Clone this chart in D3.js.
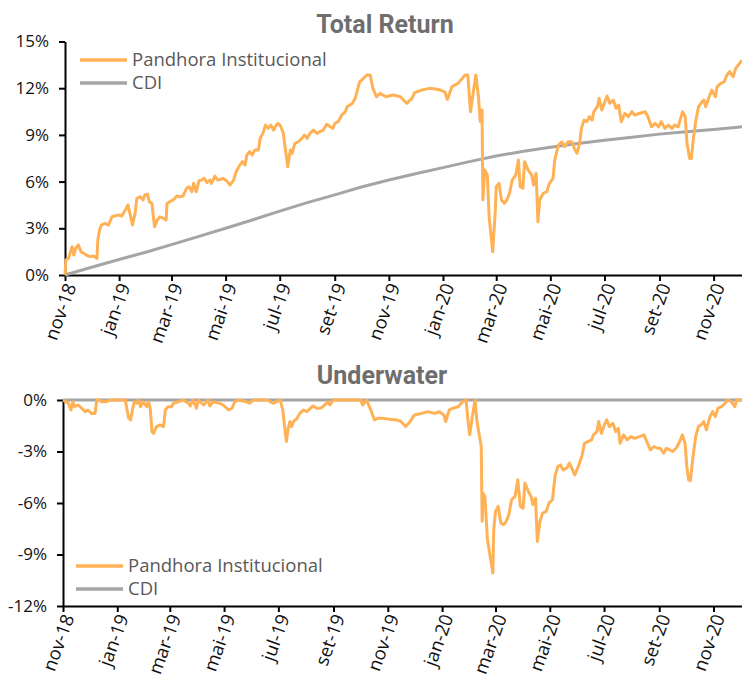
<!DOCTYPE html>
<html lang="pt">
<head>
<meta charset="utf-8" />
<title>Total Return / Underwater</title>
<style>
  * { margin: 0; padding: 0; }
  body { background: #fff; width: 742px; height: 677px; overflow: hidden; }
  svg { display: block; }
  .tick text { font-family: "Open Sans", sans-serif; font-size: 17px; fill: #111; }
  .x-axis .tick text { font-size: 18.5px; }
  .domain, .tick line { stroke: #000; stroke-width: 2px; }
  .title { font-family: Roboto, sans-serif; font-weight: bold; font-size: 25px; fill: #6e6e6e; }
  .legend { font-family: "Open Sans", sans-serif; font-size: 18.5px; fill: #595959; }
</style>
</head>
<body>
<script src="https://d3js.org/d3.v7.min.js"></script>
<div id="chart"></div>
<script>

// dias corridos desde 01/11/2018
var startDate = new Date(2018, 10, 1);
var endDay = 763;

// Total Return - Pandhora Institucional (%)
var retDays = [0, 1, 4, 8, 10, 12, 15, 18, 21, 24, 28, 32, 36, 37, 39, 41, 45, 49, 53, 56, 60, 64, 68, 71, 74, 76, 79, 81, 85, 88, 90, 93, 95, 98, 100, 101, 104, 107, 111, 114, 115, 118, 122, 126, 130, 133, 137, 140, 143, 145, 148, 151, 154, 157, 160, 163, 165, 169, 172, 175, 178, 182, 186, 190, 193, 197, 200, 203, 205, 208, 211, 214, 218, 220, 223, 226, 229, 232, 235, 238, 240, 243, 246, 249, 251, 254, 256, 259, 263, 267, 270, 273, 276, 280, 284, 287, 291, 295, 299, 302, 304, 308, 312, 316, 318, 321, 324, 327, 329, 332, 336, 340, 344, 347, 351, 355, 362, 370, 378, 385, 391, 394, 402, 411, 419, 423, 428, 431, 436, 443, 451, 454, 457, 460, 463, 466, 468, 470, 471, 473, 476, 478, 482, 485, 486, 489, 492, 495, 498, 501, 504, 508, 511, 513, 516, 518, 522, 526, 528, 531, 533, 535, 539, 543, 546, 550, 552, 556, 560, 563, 567, 571, 574, 577, 580, 582, 585, 588, 591, 594, 596, 600, 602, 605, 607, 611, 614, 618, 621, 624, 627, 631, 635, 639, 642, 648, 654, 657, 661, 665, 669, 672, 676, 680, 684, 687, 691, 696, 699, 701, 704, 706, 708, 711, 714, 718, 720, 722, 726, 729, 733, 735, 739, 743, 746, 749, 753, 756, 759, 763];
var retPandhora = [0, 0.96, 1.07, 1.82, 1.28, 1.71, 1.93, 1.5, 1.39, 1.28, 1.18, 1.22, 1.07, 2.25, 2.89, 3.21, 3.32, 3.21, 3.74, 3.79, 3.85, 3.79, 4.17, 4.5, 3.74, 3.21, 3.96, 4.93, 5.03, 4.82, 5.14, 5.2, 4.71, 4.6, 3.53, 3.1, 3.53, 3.74, 3.64, 3.53, 4.6, 4.71, 4.82, 5.07, 5.03, 5.07, 5.57, 5.67, 5.35, 5.89, 5.35, 6.06, 6.1, 6.21, 5.93, 6.1, 5.89, 6.36, 6.1, 6.13, 6.21, 6.06, 5.78, 6.1, 6.64, 7.06, 7.28, 7.06, 7.71, 7.92, 7.71, 8.03, 8.03, 8.78, 9.1, 9.63, 9.42, 9.63, 9.31, 9.63, 9.74, 9.57, 9.1, 7.82, 6.96, 8.03, 7.82, 8.46, 8.56, 8.78, 8.99, 8.78, 9.1, 9.31, 9.1, 9.2, 9.31, 9.68, 9.52, 9.42, 9.74, 9.85, 10.28, 10.49, 10.81, 10.92, 11.03, 11.35, 11.77, 12.4, 12.6, 12.85, 12.85, 11.99, 11.45, 11.67, 11.45, 11.56, 11.45, 11.03, 11.35, 11.71, 11.88, 11.99, 11.93, 11.88, 11.77, 11.28, 12.09, 12.31, 12.85, 12.85, 10.49, 11.67, 12.85, 11.45, 9.85, 10.6, 4.82, 6.74, 6.42, 3.74, 1.5, 4.17, 5.67, 5.89, 4.82, 4.6, 4.82, 5.25, 6.1, 6.42, 7.39, 5.67, 5.57, 7.28, 6.74, 6.42, 5.78, 6.53, 3.42, 4.82, 5.25, 5.35, 5.89, 6.21, 7.39, 8.35, 8.56, 8.24, 8.56, 8.56, 8.14, 7.82, 8.46, 9.42, 9.95, 9.85, 10.17, 9.95, 10.49, 10.81, 11.35, 10.6, 10.92, 11.5, 11.03, 11.24, 10.71, 10.92, 9.85, 10.39, 10.17, 10.49, 10.28, 10.39, 10.49, 10.17, 9.52, 9.74, 9.52, 9.85, 9.42, 9.63, 9.42, 9.63, 9.52, 10.49, 10.17, 8.46, 7.49, 7.49, 8.67, 9.95, 10.81, 11.13, 11.24, 10.81, 11.45, 11.88, 11.45, 12.09, 12.31, 12.42, 12.85, 13.06, 12.74, 13.28, 13.49, 13.81];

// Total Return - CDI (%)
var cdiDays = [0, 30, 61, 92, 120, 151, 181, 212, 242, 273, 304, 334, 365, 395, 426, 457, 486, 517, 547, 578, 608, 639, 670, 700, 731, 761, 763];
var cdiReturn = [0, 0.5, 1.0, 1.48, 1.95, 2.48, 3.0, 3.55, 4.1, 4.65, 5.15, 5.65, 6.1, 6.5, 6.9, 7.3, 7.65, 7.95, 8.2, 8.45, 8.65, 8.85, 9.05, 9.2, 9.35, 9.5, 9.55];

// Underwater - Pandhora Institucional (%)
var uwDays = [0, 6, 9, 11, 13, 17, 21, 25, 28, 32, 36, 38, 42, 43, 49, 53, 64, 70, 72, 74, 76, 78, 80, 83, 85, 87, 90, 94, 96, 98, 100, 102, 105, 109, 113, 115, 118, 122, 124, 130, 135, 141, 143, 146, 150, 152, 158, 163, 165, 169, 176, 180, 186, 190, 193, 197, 206, 210, 214, 229, 233, 236, 240, 244, 247, 249, 251, 253, 255, 257, 259, 263, 266, 270, 274, 278, 281, 285, 289, 292, 298, 300, 304, 326, 334, 337, 341, 345, 348, 350, 354, 360, 367, 375, 380, 385, 390, 395, 403, 410, 418, 423, 428, 430, 434, 438, 444, 449, 453, 455, 457, 460, 463, 465, 468, 470, 471, 472, 474, 477, 480, 483, 484, 486, 489, 492, 495, 498, 501, 504, 508, 511, 514, 517, 519, 523, 526, 528, 531, 533, 536, 539, 543, 546, 550, 553, 556, 559, 562, 566, 569, 571, 575, 579, 583, 586, 590, 594, 596, 600, 602, 605, 609, 611, 614, 618, 621, 624, 626, 630, 634, 638, 642, 648, 653, 656, 660, 664, 668, 671, 675, 678, 682, 685, 689, 693, 696, 699, 701, 703, 705, 708, 711, 714, 717, 720, 723, 727, 730, 733, 736, 740, 744, 747, 751, 755, 757, 763];
var uwPandhora = [0, -0.19, -0.58, -0.1, -0.39, -0.29, -0.48, -0.68, -0.58, -0.78, -0.78, 0, 0, -0.1, -0.1, 0, 0, 0, -0.58, -1.07, -1.16, -0.58, -0.1, -0.19, 0, -0.39, -0.1, -0.39, -0.1, -0.48, -1.84, -1.94, -1.55, -1.45, -1.55, -0.58, -0.39, -0.39, -0.19, -0.1, 0, -0.19, -0.35, 0, -0.48, 0, -0.29, 0, -0.35, -0.1, -0.19, -0.29, -0.58, -0.48, -0.1, 0, -0.1, -0.19, 0, 0, -0.1, -0.19, -0.1, 0, -0.58, -1.55, -2.42, -1.65, -1.26, -1.55, -1.26, -1.07, -0.78, -0.58, -0.68, -0.48, -0.35, -0.48, -0.48, -0.39, -0.1, -0.29, 0, 0, 0, -0.29, 0, -0.48, -0.87, -1.16, -1.07, -1.07, -1.12, -1.16, -1.26, -1.55, -1.26, -0.87, -0.78, -0.68, -0.78, -0.68, -0.87, -1.26, -0.58, -0.48, -0.39, -0.1, 0, -1.16, -2.03, -0.97, 0, -1.16, -2.13, -2.71, -7.07, -5.43, -5.62, -8.14, -9.11, -10.08, -7.56, -6.49, -6.2, -7.17, -7.27, -7.07, -6.69, -5.81, -5.62, -4.65, -6.2, -6.3, -4.84, -5.33, -5.62, -6.1, -5.72, -8.24, -7.07, -6.59, -6.49, -6.01, -5.81, -4.4, -3.88, -3.78, -4.07, -3.97, -3.68, -3.88, -4.36, -3.88, -3.29, -2.52, -2.42, -2.33, -2.03, -1.84, -1.26, -1.94, -1.36, -1.16, -1.55, -1.36, -1.84, -1.65, -2.52, -2.03, -2.33, -2.13, -2.23, -2.13, -2.03, -2.42, -2.91, -2.71, -2.81, -2.81, -3.1, -2.81, -2.91, -3.0, -2.81, -2.42, -2.03, -2.52, -3.88, -4.65, -4.7, -3.29, -2.13, -1.55, -1.45, -1.26, -1.74, -0.97, -0.68, -0.97, -0.48, -0.39, -0.19, 0, -0.1, -0.39, 0, 0];

// Underwater - CDI (%)
var uwCdiDays = [0, 763];
var uwCdi = [0, 0];

var seriesNames = ["Pandhora Institucional", "CDI"];
var tickLabels = ["nov-18", "jan-19", "mar-19", "mai-19", "jul-19", "set-19", "nov-19", "jan-20", "mar-20", "mai-20", "jul-20", "set-20", "nov-20"];
var retTicks = [0, 3, 6, 9, 12, 15];
var uwTicks = [0, -3, -6, -9, -12];

var colors = ["#ffb155", "#a5a5a5"];

var toDate = function(d) { return d3.timeDay.offset(startDate, d); };
var tickDates = tickLabels.map(function(l, i) { return d3.timeMonth.offset(startDate, i * 2); });

var svg = d3.select("#chart").append("svg")
    .attr("width", 742)
    .attr("height", 677);

var drawPanel = function(opt) {
  var x = d3.scaleTime()
      .domain([startDate, toDate(endDay)])
      .range([opt.left, 742]);
  var y = d3.scaleLinear()
      .domain(opt.yDomain)
      .range([opt.bottom, opt.top]);

  var g = svg.append("g");

  g.append("text")
      .attr("class", "title")
      .attr("x", opt.titleX)
      .attr("y", opt.titleY)
      .attr("text-anchor", "middle")
      .text(opt.title);

  // eixos
  var xAxisY = y(opt.yDomain[0]);
  g.append("g")
      .attr("class", "x-axis")
      .attr("transform", "translate(0," + xAxisY + ")")
      .call(d3.axisBottom(x)
        .tickValues(tickDates)
        .tickSize(6)
        .tickSizeOuter(0)
        .tickFormat(function(d, i) { return tickLabels[i]; }))
    .selectAll("text")
      .attr("text-anchor", "end")
      .attr("transform", "translate(5,9) rotate(-70)")
      .attr("x", 0)
      .attr("y", 0)
      .attr("dy", "0.35em");

  g.append("g")
      .attr("transform", "translate(" + opt.left + ",0)")
      .call(d3.axisLeft(y)
        .tickValues(opt.yTicks)
        .tickSize(6)
        .tickSizeOuter(0)
        .tickPadding(10)
        .tickFormat(function(d) { return d + "%"; }));

  var line = d3.line()
      .x(function(d) { return x(toDate(d[0])); })
      .y(function(d) { return y(d[1]); });

  // CDI por baixo, Pandhora por cima
  opt.series.slice().reverse().forEach(function(s, k) {
    var pts = s.days.map(function(d, i) { return [d, s.values[i]]; });
    g.append("path")
        .datum(pts)
        .attr("fill", "none")
        .attr("stroke", colors[opt.series.length - 1 - k])
        .attr("stroke-width", 3)
        .attr("stroke-linejoin", "round")
        .attr("d", line);
  });

  // legenda
  seriesNames.forEach(function(name, i) {
    var ly = opt.legendY + i * 23;
    g.append("line")
        .attr("x1", opt.legendX).attr("x2", opt.legendX + 47)
        .attr("y1", ly).attr("y2", ly)
        .attr("stroke", colors[i])
        .attr("stroke-width", 3.5);
    g.append("text")
        .attr("class", "legend")
        .attr("x", opt.legendX + 52)
        .attr("y", ly)
        .attr("dy", "0.35em")
        .text(name);
  });
};

drawPanel({
  title: "Total Return", titleX: 385, titleY: 33,
  left: 65, top: 41.5, bottom: 275,
  yDomain: [0, 15], yTicks: retTicks,
  legendX: 80, legendY: 60,
  series: [
    { days: retDays, values: retPandhora },
    { days: cdiDays, values: cdiReturn }
  ]
});

drawPanel({
  title: "Underwater", titleX: 382, titleY: 384,
  left: 63, top: 400, bottom: 606,
  yDomain: [-12, 0], yTicks: uwTicks,
  legendX: 76, legendY: 566,
  series: [
    { days: uwDays, values: uwPandhora },
    { days: uwCdiDays, values: uwCdi }
  ]
});

</script>
</body>
</html>
